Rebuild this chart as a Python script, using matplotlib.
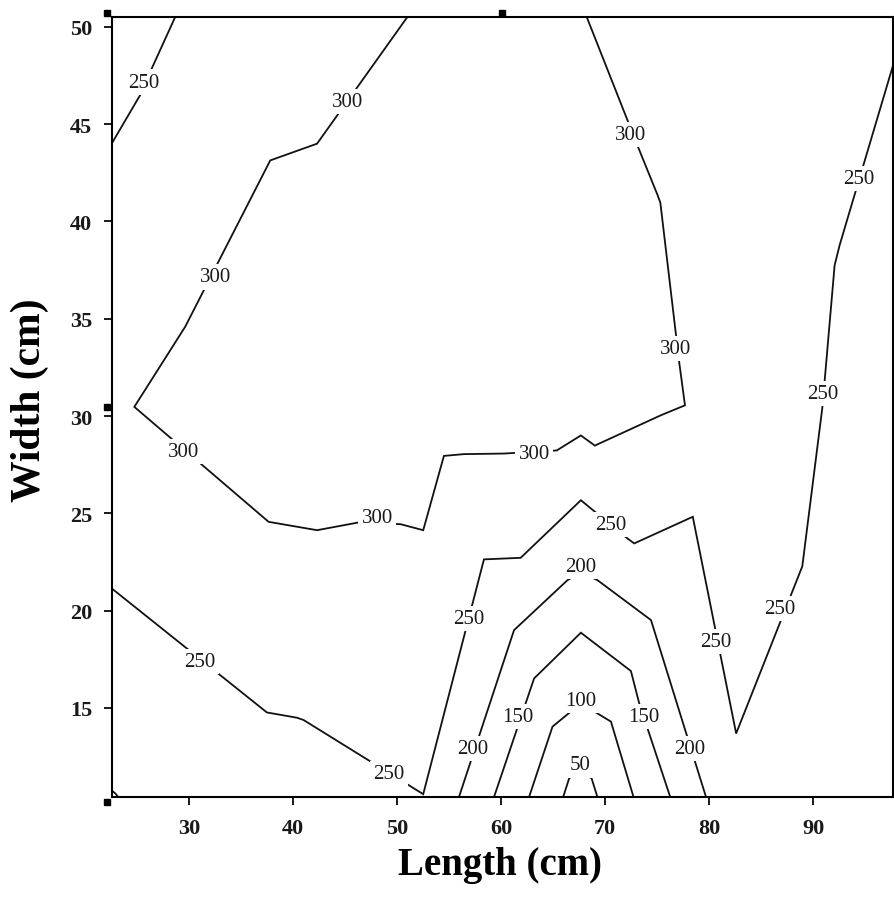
import matplotlib
matplotlib.use("Agg")
import matplotlib.pyplot as plt

# Contour lines (Length in cm, Width in cm)
c250_topleft_x = [22.55, 25.28, 26.40, 28.65]
c250_topleft_y = [44.00, 46.49, 47.86, 50.5]

c300_x = [50.97, 42.30, 37.80, 29.61, 24.73, 37.64, 42.30, 46.31, 50.32, 52.51, 54.50, 56.42,
          60.28, 65.35, 67.67, 69.01, 75.37, 77.68, 77.14, 75.31, 75.05, 73.19, 68.24]
c300_y = [50.5, 44.00, 43.14, 34.58, 30.47, 24.56, 24.13, 24.53, 24.44, 24.13, 27.95, 28.04,
          28.07, 28.23, 29.00, 28.48, 30.04, 30.55, 32.70, 40.97, 41.35, 43.80, 50.5]

c250_x = [22.55, 37.48, 40.37, 41.01, 52.51, 58.35, 61.88, 67.67, 72.16, 72.80, 78.43, 82.60,
          88.96, 90.88, 92.07, 92.55, 97.65]
c250_y = [21.14, 14.76, 14.49, 14.37, 10.56, 22.63, 22.71, 25.67, 23.70, 23.45, 24.82, 13.68,
          22.27, 30.39, 37.75, 38.78, 47.96]

c250_corner_x = [22.55, 22.9, 23.2]
c250_corner_y = [10.75, 10.6, 10.4]

c200_x = [55.94, 61.24, 66.38, 67.67, 69.27, 74.41, 79.71]
c200_y = [10.4, 18.99, 21.56, 21.96, 21.56, 19.51, 10.4]

c150_x = [59.31, 63.17, 67.67, 72.48, 73.28, 76.27]
c150_y = [10.4, 16.51, 18.86, 16.89, 15.23, 10.4]

c100_x = [62.68, 64.94, 67.67, 70.56, 72.74]
c100_y = [10.4, 14.03, 15.23, 14.29, 10.4]

c50_x = [65.96, 66.54, 67.60, 68.70, 69.27]
c50_y = [10.4, 11.37, 11.78, 11.37, 10.4]

# contour labels
label_x = [25.59, 45.19, 32.50, 29.45, 48.08, 63.17, 76.82, 72.48,
           31.06, 49.20, 56.90, 70.56, 80.67, 86.84, 90.95, 94.42,
           57.23, 67.67, 78.10, 61.57, 73.76, 67.67, 67.60]
label_y = [47.17, 46.15, 37.15, 28.16, 24.77, 28.07, 33.47, 44.47,
           17.37, 11.63, 19.59, 24.44, 18.40, 20.11, 31.16, 42.20,
           12.91, 22.25, 12.91, 14.54, 14.54, 15.40, 12.06]
label_val = [250, 300, 300, 300, 300, 300, 300, 300,
             250, 250, 250, 250, 250, 250, 250, 250,
             200, 200, 200, 150, 150, 100, 50]

x_ticks = [30, 40, 50, 60, 70, 80, 90]
y_ticks = [15, 20, 25, 30, 35, 40, 45, 50]

plt.rcParams['font.family'] = ['Liberation Serif', 'DejaVu Serif']

fig = plt.figure(figsize=(8.94, 9.12), dpi=100)
ax = fig.add_axes([0.1249, 0.1247, 0.8736, 0.8553])

lines = [(c250_topleft_x, c250_topleft_y), (c300_x, c300_y), (c250_x, c250_y),
         (c250_corner_x, c250_corner_y), (c200_x, c200_y), (c150_x, c150_y),
         (c100_x, c100_y), (c50_x, c50_y)]
for xs, ys in lines:
    ax.plot(xs, ys, color='#111111', lw=1.3, solid_joinstyle='miter')

for x, y, v in zip(label_x, label_y, label_val):
    ax.text(x, y, str(v), ha='center', va='center', fontsize=15, color='#1a1a1a', zorder=5,
            bbox=dict(boxstyle='square,pad=0.15', fc='white', ec='none'))

ax.set_xlim(22.55, 97.65)
ax.set_ylim(10.4, 50.5)
ax.set_xticks(x_ticks)
ax.set_yticks(y_ticks)
ax.tick_params(axis='x', direction='out', length=6, width=1.4, pad=9, labelsize=16, colors='#1a1a1a')
ax.tick_params(axis='y', direction='out', length=6, width=1.4, pad=8, labelsize=16, colors='#1a1a1a')
for lab in ax.get_xticklabels() + ax.get_yticklabels():
    lab.set_fontweight('bold')
for sp in ax.spines.values():
    sp.set_linewidth(1.5)

ax.set_xlabel('Length (cm)', fontsize=28, fontweight='bold', va='center')
ax.set_ylabel('Width (cm)', fontsize=30, fontweight='bold', va='center')
ax.xaxis.set_label_coords(0.497, -0.086)
ax.yaxis.set_label_coords(-0.105, 0.51)

# selection handles left on the graph
hx = [-0.006, 0.5, -0.006, -0.006]
hy = [1.006, 1.006, 0.5, -0.006]
ax.plot(hx, hy, 's', color='black', ms=4.5, transform=ax.transAxes, clip_on=False)

fig.savefig('out.png', dpi=100, facecolor='white')
